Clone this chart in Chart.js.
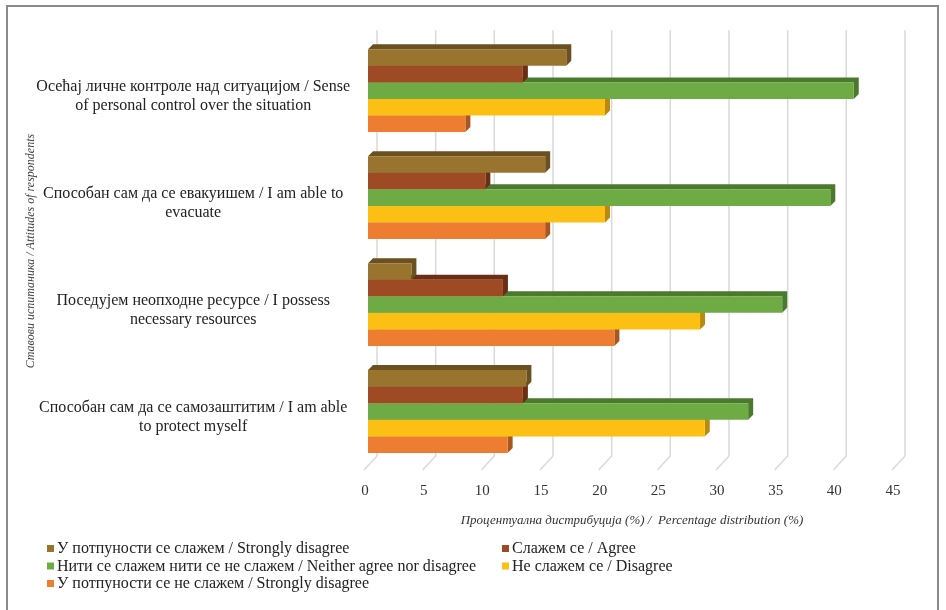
<!DOCTYPE html>
<html>
<head>
<meta charset="utf-8">
<script src="https://cdn.jsdelivr.net/npm/chart.js"></script>
<style>
  body { margin: 0; background: #fff; }
</style>
</head>
<body>
<canvas id="myChart" width="946" height="610"></canvas>
<script>
const categories = [
  ["Осећај личне контроле над ситуацијом / Sense", "of personal control over the situation"],
  ["Способан сам да се евакуишем / I am able to", "evacuate"],
  ["Поседујем неопходне ресурсе / I possess", "necessary resources"],
  ["Способан сам да се самозаштитим / I am able", "to protect myself"],
];
const seriesNames = [
  "У потпуности се слажем / Strongly disagree",
  "Слажем се / Agree",
  "Нити се слажем нити се не слажем / Neither agree nor disagree",
  "Не слажем се / Disagree",
  "У потпуности се не слажем / Strongly disagree",
];
const stronglyAgree = [16.9, 15.1, 3.7, 13.5];
const agree = [13.2, 10.0, 11.5, 13.2];
const neutral = [41.4, 39.4, 35.3, 32.4];
const disagree = [20.2, 20.2, 28.3, 28.7];
const stronglyDisagree = [8.3, 15.1, 21.0, 11.9];
const xTicks = [0, 5, 10, 15, 20, 25, 30, 35, 40, 45];

const fillColors = ["#98742f", "#9e4a24", "#6eab45", "#fcbf14", "#ed7d31"];
const darkColors = ["#6b5020", "#6a2e14", "#4b7a2e", "#b88a12", "#a9561f"];

const allSeries = [stronglyAgree, agree, neutral, disagree, stronglyDisagree];
const serif = "'Liberation Serif', 'DejaVu Serif', serif";

// 3d depth of the bars
const dx = 5, dy = 5;

const framePlugin = {
  id: "frame",
  beforeDraw(chart) {
    const ctx = chart.ctx;
    ctx.save();
    ctx.fillStyle = "#fff";
    ctx.fillRect(0, 0, chart.width, chart.height);
    ctx.strokeStyle = "#8a8a8a";
    ctx.lineWidth = 2;
    ctx.strokeRect(7, 6, 931, 700);
    ctx.restore();
  }
};

const wallPlugin = {
  id: "wall",
  beforeDatasetsDraw(chart) {
    const ctx = chart.ctx;
    const xs = chart.scales.x;
    const area = chart.chartArea;
    ctx.save();
    ctx.strokeStyle = "#d9d9d9";
    ctx.lineWidth = 1.5;
    xTicks.forEach(v => {
      const px = xs.getPixelForValue(v);
      ctx.beginPath();
      ctx.moveTo(px + 9, area.top - 7);
      ctx.lineTo(px + 9, area.bottom - 9);
      ctx.lineTo(px - 4, area.bottom + 5);
      ctx.stroke();
    });
    // top and side faces of the bars
    for (let d = chart.data.datasets.length - 1; d >= 0; d--) {
      const meta = chart.getDatasetMeta(d);
      meta.data.forEach(bar => {
        const p = bar.getProps(["x", "y", "base", "height"], true);
        const top = p.y - p.height / 2;
        const bottom = p.y + p.height / 2;
        ctx.fillStyle = darkColors[d];
        ctx.beginPath();
        ctx.moveTo(p.base, top);
        ctx.lineTo(p.base + dx, top - dy);
        ctx.lineTo(p.x + dx, top - dy);
        ctx.lineTo(p.x + dx, bottom - dy);
        ctx.lineTo(p.x, bottom);
        ctx.lineTo(p.x, top);
        ctx.closePath();
        ctx.fill();
      });
    }
    ctx.restore();
  }
};

const legendPlugin = {
  id: "twoColLegend",
  afterDraw(chart) {
    const ctx = chart.ctx;
    const colX = [47, 502];
    const rowY = [549, 566.5, 584];
    ctx.save();
    ctx.font = "16px " + serif;
    ctx.textBaseline = "middle";
    chart.data.datasets.forEach((ds, i) => {
      const x = colX[i % 2];
      const y = rowY[Math.floor(i / 2)];
      ctx.fillStyle = ds.backgroundColor;
      ctx.fillRect(x, y - 4, 7, 7);
      ctx.fillStyle = "#222";
      ctx.fillText(ds.label, x + 10, y);
    });
    ctx.restore();
  }
};

const chart = new Chart(document.getElementById("myChart"), {
  type: "bar",
  data: {
    labels: categories,
    datasets: allSeries.map((vals, i) => ({
      label: seriesNames[i],
      data: vals,
      backgroundColor: fillColors[i],
      borderWidth: 0,
      categoryPercentage: 0.775,
      barPercentage: 1.0,
    })),
  },
  options: {
    indexAxis: "y",
    responsive: false,
    animation: false,
    layout: { padding: { left: 10, right: 50, top: 35, bottom: 75 } },
    plugins: {
      legend: { display: false },
      tooltip: { enabled: false },
    },
    scales: {
      x: {
        min: 0,
        max: 45,
        afterFit: s => { s.height = 70; },
        grid: { display: false, drawTicks: false },
        border: { display: false },
        ticks: {
          stepSize: 5,
          padding: 17,
          labelOffset: -3,
          color: "#333",
          font: { family: serif, size: 15 },
        },
        title: {
          display: true,
          text: "Процентуална дистрибуција (%) /  Percentage distribution (%)",
          color: "#333",
          font: { family: serif, size: 13, style: "italic" },
          padding: { top: 0, bottom: 7 },
        },
      },
      y: {
        afterFit: s => { s.width = 358; },
        grid: { display: false, drawTicks: false },
        border: { display: false },
        ticks: {
          autoSkip: false,
          crossAlign: "center",
          padding: 18,
          labelOffset: 6,
          color: "#222",
          font: { family: serif, size: 16 },
        },
        title: {
          display: true,
          text: "Ставови испитаника / Attitudes of respondents",
          color: "#444",
          font: { family: serif, size: 12, style: "italic" },
          padding: { top: 14, bottom: 0 },
        },
      },
    },
  },
  plugins: [framePlugin, wallPlugin, legendPlugin],
});
</script>
</body>
</html>
